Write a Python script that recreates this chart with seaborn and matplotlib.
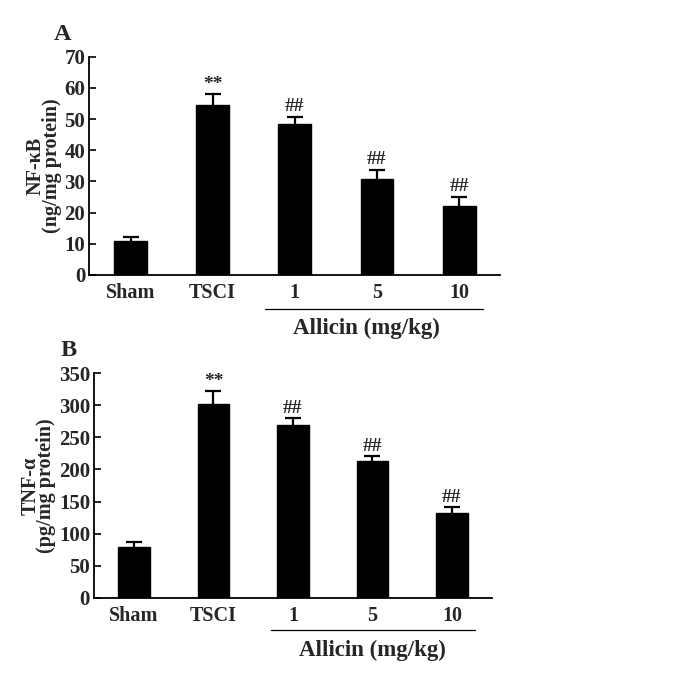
import numpy as np
import pandas as pd
import matplotlib
matplotlib.use('Agg')
import matplotlib.pyplot as plt
import matplotlib.transforms as mtransforms
import seaborn as sns

sns.set_style('white')
plt.rcParams['font.family'] = ['Liberation Serif', 'DejaVu Serif']
plt.rcParams['font.weight'] = 'bold'

# Data
groups = ['Sham', 'TSCI', '1', '5', '10']
nfkb_mean = [10.9, 54.6, 48.5, 30.8, 22.1]
nfkb_err = [1.3, 3.3, 2.2, 2.9, 3.0]
tnf_mean = [79.6, 302.7, 269.4, 212.7, 132.6]
tnf_err = [6.7, 19.2, 10.4, 8.3, 8.3]
marks = ['', '**', '##', '##', '##']


def draw_panel(ax, means, errs, ymax, ystep, ylabel, letter,
               line_x, line_y, label_x, label_y):
    df = pd.DataFrame({'group': groups, 'value': means})
    sns.barplot(data=df, x='group', y='value', color='black',
                width=0.4, edgecolor='black', ax=ax)
    ax.errorbar(np.arange(len(groups)), means, yerr=errs, fmt='none',
                ecolor='black', elinewidth=1.6, capsize=6, capthick=1.6)
    for i, (m, e, t) in enumerate(zip(means, errs, marks)):
        if t:
            ax.annotate(t, (i, m + e), xytext=(0, 1), textcoords='offset points',
                        ha='center', va='bottom', fontsize=14, fontweight='bold')

    ax.set_xlim(-0.5, len(groups) - 0.5)
    ax.set_ylim(0, ymax)
    ax.set_yticks(np.arange(0, ymax + 1, ystep))
    ax.set_xticks(np.arange(len(groups)))
    ax.set_xticklabels(groups)
    ax.set_xticks(np.arange(len(groups)) + 0.5, minor=True)
    ax.tick_params(axis='x', which='major', length=0, pad=6, labelsize=14.5)
    ax.tick_params(axis='x', which='minor', direction='in', length=5,
                   width=1.2, color='black')
    ax.tick_params(axis='y', direction='in', length=5, width=1.2,
                   color='black', left=True, pad=3, labelsize=15)
    for lab in ax.get_xticklabels() + ax.get_yticklabels():
        lab.set_fontweight('bold')
    ax.set_xlabel('')
    ax.set_ylabel(ylabel, fontsize=14.5, fontweight='bold', labelpad=2,
                  linespacing=0.72)
    for s in ['top', 'right']:
        ax.spines[s].set_visible(False)
    for s in ['left', 'bottom']:
        ax.spines[s].set_color('black')
        ax.spines[s].set_linewidth(1.3)

    trans = mtransforms.blended_transform_factory(ax.transData, ax.transAxes)
    ax.plot(line_x, [line_y, line_y], color='black', lw=0.9,
            transform=trans, clip_on=False)
    ax.text(label_x, label_y, 'Allicin (mg/kg)', transform=trans,
            ha='center', va='center', fontsize=16.5, fontweight='bold')
    ax.text(-0.045, 1.1, letter, transform=ax.transAxes, fontsize=17.5,
            fontweight='bold', ha='right', va='center')


fig = plt.figure(figsize=(6.88, 6.73), dpi=100)
ax1 = fig.add_axes([0.130, 0.5914, 0.597, 0.3244])
ax2 = fig.add_axes([0.137, 0.1119, 0.5777, 0.3334])

draw_panel(ax1, nfkb_mean, nfkb_err, 70, 10, 'NF-\u03baB\n(ng/mg protein)', 'A',
           [1.64, 4.29], -0.156, 2.87, -0.243)
draw_panel(ax2, tnf_mean, tnf_err, 350, 50, 'TNF-\u03b1\n(pg/mg protein)', 'B',
           [1.72, 4.29], -0.144, 3.0, -0.233)

fig.savefig('out.png', dpi=100, facecolor='white')
